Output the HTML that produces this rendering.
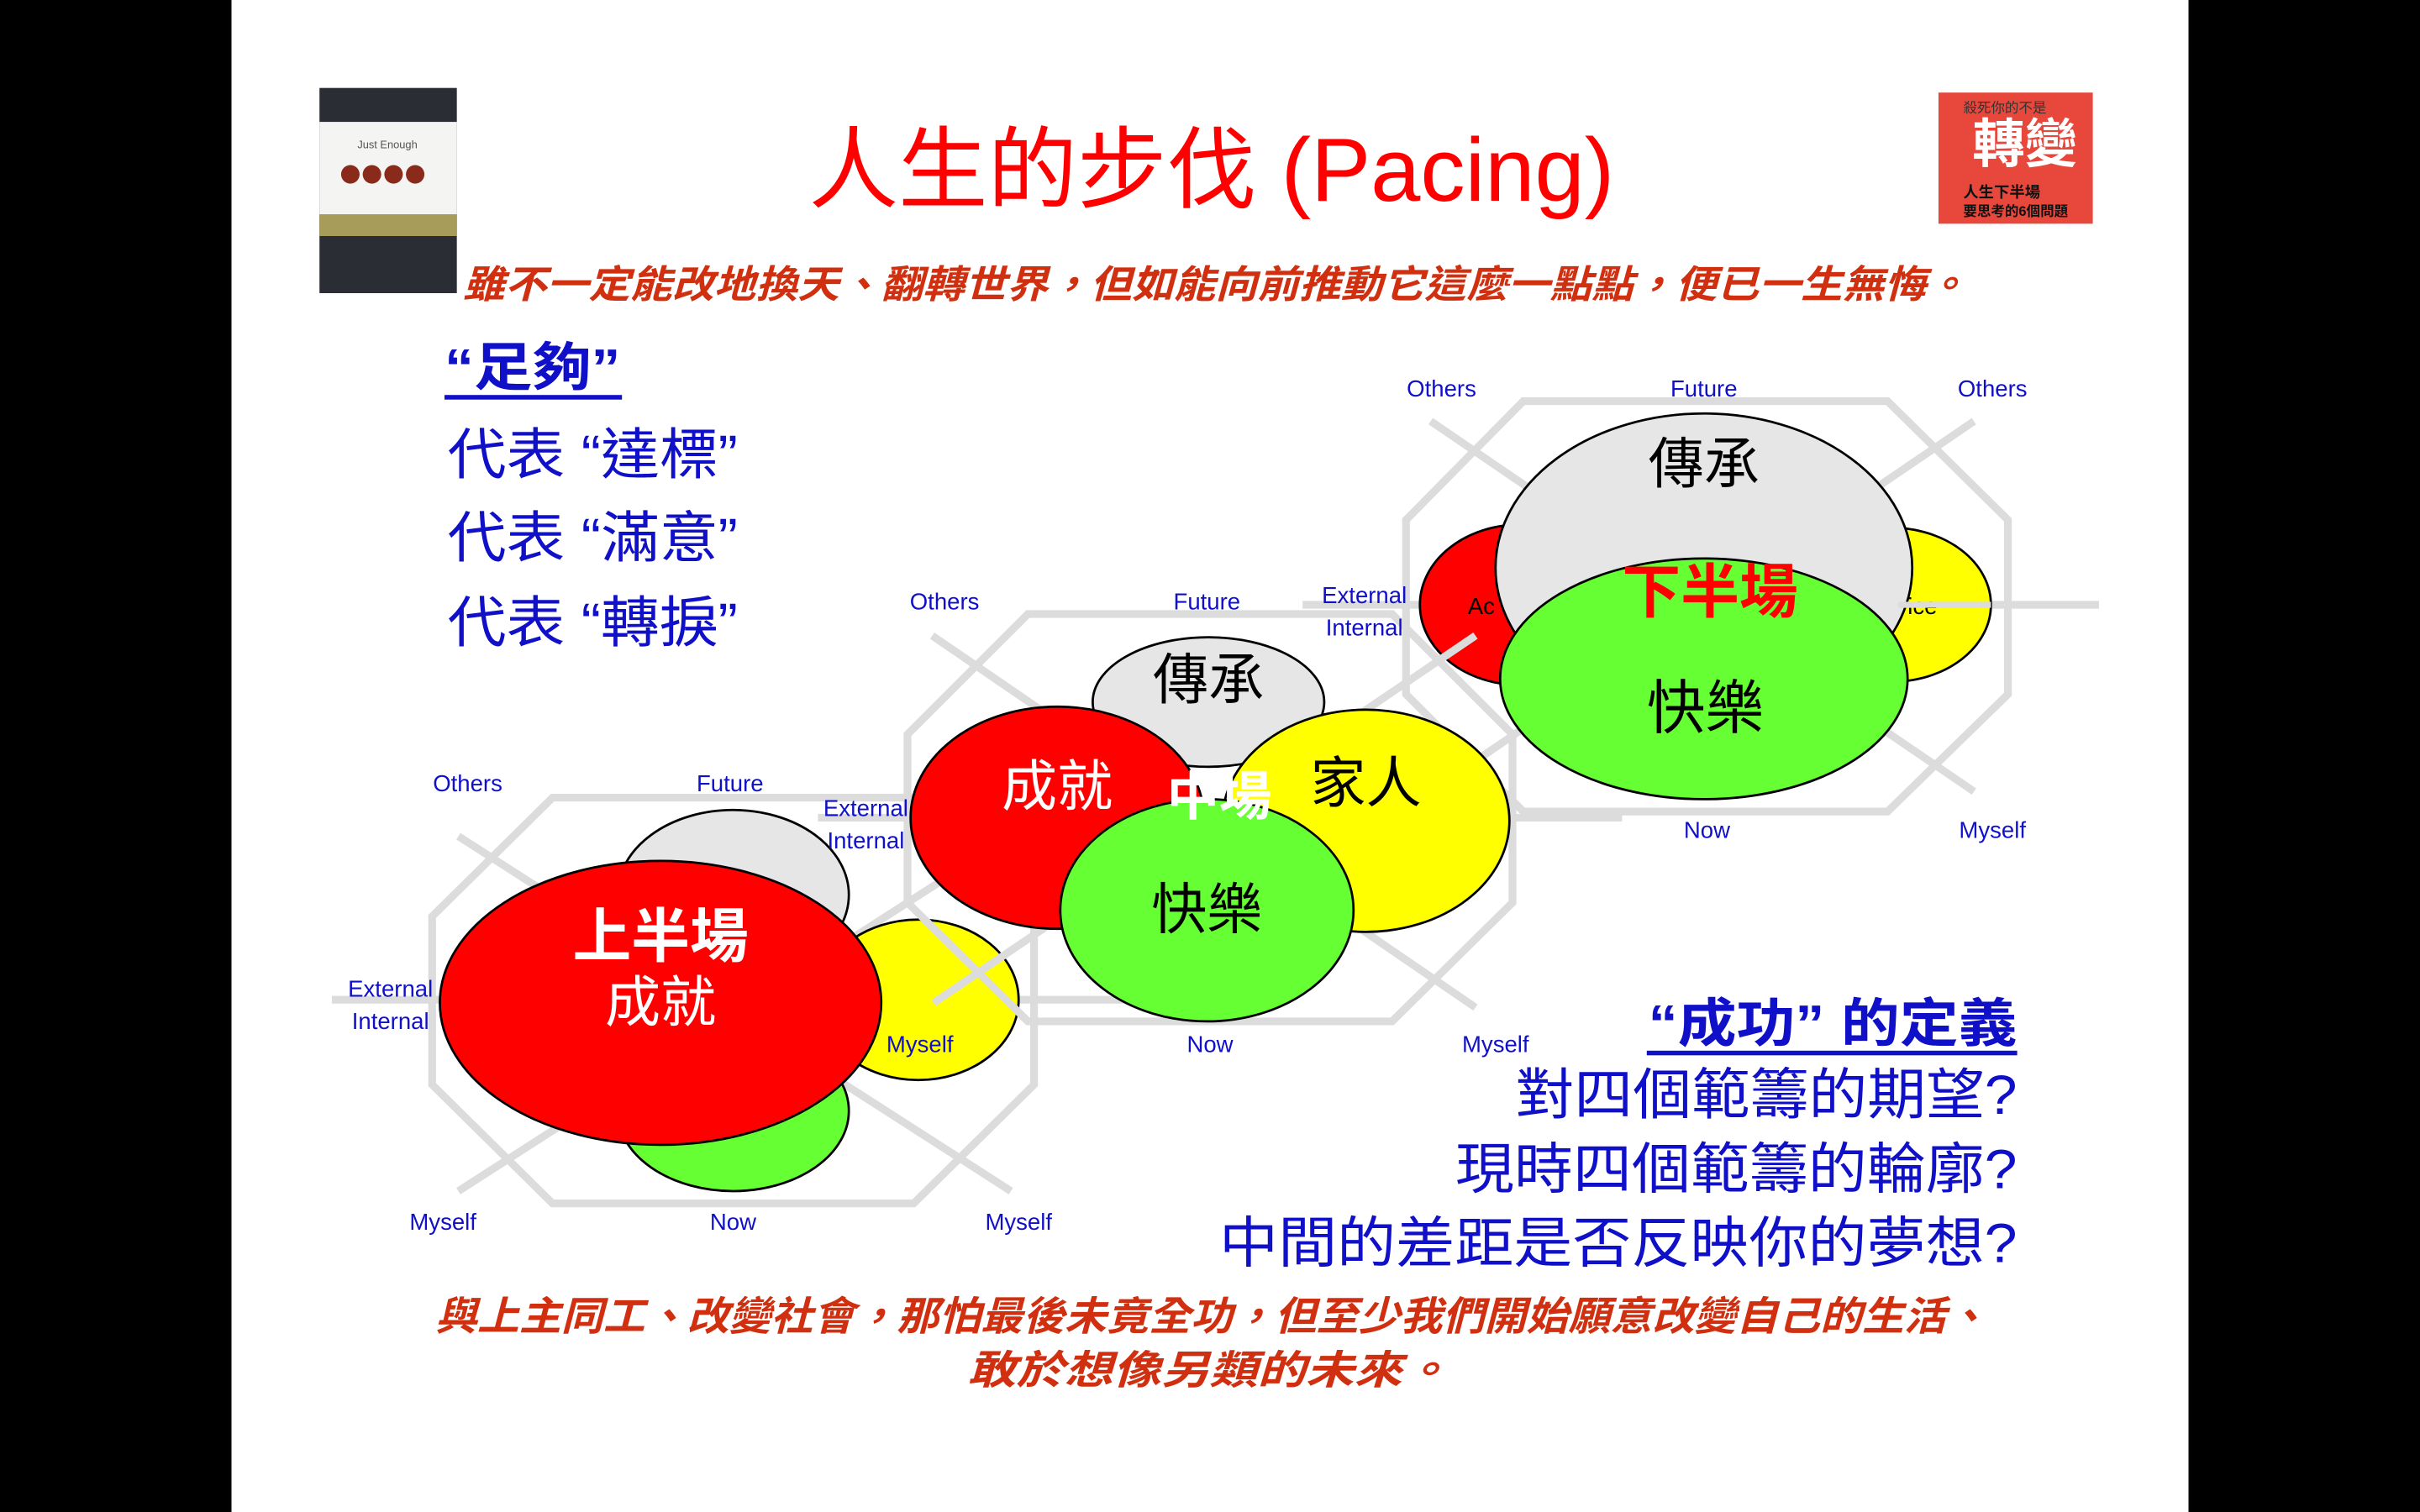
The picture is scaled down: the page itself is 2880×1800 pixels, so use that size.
<!DOCTYPE html>
<html><head><meta charset="utf-8"><style>
html,body{margin:0;padding:0;background:#000;}
svg{display:block}
text{font-family:"Liberation Sans","Noto Sans CJK TC",sans-serif;}
</style></head><body>
<svg width="2880" height="1800" viewBox="0 0 1568 980" xmlns="http://www.w3.org/2000/svg">
<rect x="0" y="0" width="1568" height="980" fill="#000"/>
<rect x="150" y="0" width="1268" height="980" fill="#fff"/>

<!-- left book -->
<rect x="207" y="57" width="89" height="133" fill="#2a2d33"/>
<rect x="207" y="79" width="89" height="60" fill="#f4f4f2"/>
<rect x="207" y="139" width="89" height="14" fill="#a89c5a"/>
<text x="251" y="96" font-size="7" fill="#555" text-anchor="middle" font-family="Liberation Serif,serif">Just Enough</text>
<circle cx="227" cy="113" r="6" fill="#8a2a1a"/><circle cx="241" cy="113" r="6" fill="#8a2a1a"/><circle cx="255" cy="113" r="6" fill="#8a2a1a"/><circle cx="269" cy="113" r="6" fill="#8a2a1a"/>
<!-- right book -->
<rect x="1256" y="60" width="100" height="85" fill="#e8483c"/>
<text x="1312" y="105" font-size="34" fill="#fff" text-anchor="middle" font-weight="bold">轉變</text>
<text x="1272" y="73" font-size="9" fill="#333">殺死你的不是</text>
<text x="1272" y="128" font-size="10" fill="#111" font-weight="bold">人生下半場</text>
<text x="1272" y="140" font-size="9" fill="#111" font-weight="bold">要思考的6個問題</text>

<!-- title -->
<text x="785" y="130" font-size="58" fill="#ff0000" text-anchor="middle">人生的步伐 (Pacing)</text>
<text x="300" y="193" font-size="25" fill="#d03010" font-style="italic" font-weight="bold" textLength="975" lengthAdjust="spacingAndGlyphs">雖不一定能改地換天、翻轉世界，但如能向前推動它這麼一點點，便已一生無悔。</text>

<!-- left text block -->
<text x="288" y="250" font-size="34" fill="#1010c8" font-weight="bold" textLength="114" lengthAdjust="spacingAndGlyphs">“足夠”</text>
<rect x="288" y="256" width="115" height="3" fill="#1010c8"/>
<text x="290" y="307" font-size="36" fill="#1010c8" textLength="188" lengthAdjust="spacingAndGlyphs">代表 “達標”</text>
<text x="290" y="361" font-size="36" fill="#1010c8" textLength="188" lengthAdjust="spacingAndGlyphs">代表 “滿意”</text>
<text x="290" y="416" font-size="36" fill="#1010c8" textLength="188" lengthAdjust="spacingAndGlyphs">代表 “轉捩”</text>

<!-- diagram 1 frame -->
<g fill="none" stroke="#dcdcdc" stroke-width="5">
<polygon points="358,517 592,517 670,594 670,703 592,780 358,780 280,703 280,594"/>
<line x1="297" y1="542" x2="655" y2="772"/>
<line x1="297" y1="772" x2="655" y2="542"/>
<line x1="215" y1="648" x2="735" y2="648"/>
</g>
<g stroke="#000" stroke-width="1.5">
<ellipse cx="475" cy="580" rx="75" ry="55" fill="#e6e6e6"/>
<ellipse cx="475" cy="720" rx="75" ry="52" fill="#66ff33"/>
<ellipse cx="595" cy="648" rx="65" ry="52" fill="#ffff00"/>
<ellipse cx="428" cy="650" rx="143" ry="92" fill="#ff0000"/>
</g>
<text x="428" y="620" font-size="38" fill="#fff" font-weight="bold" text-anchor="middle">上半場</text>
<text x="428" y="662" font-size="36" fill="#fff" text-anchor="middle">成就</text>

<!-- diagram 3 frame -->
<g fill="none" stroke="#dcdcdc" stroke-width="5">
<polygon points="987,260 1223,260 1301,337 1301,450 1223,526 987,526 911,450 911,337"/>
<line x1="927" y1="273" x2="1279" y2="513"/>
<line x1="927" y1="513" x2="1279" y2="273"/>
<line x1="844" y1="392" x2="1360" y2="392"/>
</g>
<g stroke="#000" stroke-width="1.5">
<ellipse cx="985" cy="392" rx="65" ry="52" fill="#ff0000"/>
<ellipse cx="1225" cy="392" rx="65" ry="50" fill="#ffff00"/>
</g>
<text x="951" y="398" font-size="15" fill="#000">Ac</text>
<text x="1236" y="398" font-size="15" fill="#000">ice</text>
<g stroke="#000" stroke-width="1.5">
<ellipse cx="1104" cy="368" rx="135" ry="100" fill="#e6e6e6"/>
<ellipse cx="1104" cy="440" rx="132" ry="78" fill="#66ff33"/>
</g>
<line x1="1230" y1="392" x2="1290" y2="392" stroke="#dcdcdc" stroke-width="4"/>
<text x="1104" y="313" font-size="36" fill="#000" text-anchor="middle">傳承</text>
<text x="1108" y="397" font-size="38" fill="#ff0000" font-weight="bold" text-anchor="middle">下半場</text>
<text x="1105" y="472" font-size="38" fill="#000" text-anchor="middle">快樂</text>

<!-- diagram 2 frame -->
<g fill="none" stroke="#dcdcdc" stroke-width="5">
<polygon points="666,398 902,398 980,476 980,585 902,662 666,662 588,585 588,476"/>
<line x1="604" y1="412" x2="956" y2="653"/>
<line x1="605" y1="650" x2="956" y2="412"/>
<line x1="530" y1="530" x2="1051" y2="530"/>
</g>
<g stroke="#000" stroke-width="1.5">
<ellipse cx="783" cy="455" rx="75" ry="42" fill="#e6e6e6"/>
<ellipse cx="685" cy="530" rx="95" ry="72" fill="#ff0000"/>
<ellipse cx="885" cy="532" rx="93" ry="72" fill="#ffff00"/>
<ellipse cx="782" cy="590" rx="95" ry="72" fill="#66ff33"/>
</g>
<text x="783" y="453" font-size="36" fill="#000" text-anchor="middle">傳承</text>
<text x="685" y="522" font-size="36" fill="#fff" text-anchor="middle">成就</text>
<text x="885" y="520" font-size="36" fill="#000" text-anchor="middle">家人</text>
<text x="790" y="528" font-size="34" fill="#fff" font-weight="bold" text-anchor="middle">中場</text>
<text x="782" y="602" font-size="36" fill="#000" text-anchor="middle">快樂</text>

<!-- labels -->
<g font-size="15" fill="#1010c8" text-anchor="middle">
<text x="303" y="513">Others</text><text x="473" y="513">Future</text>
<text x="253" y="646">External</text><text x="253" y="667">Internal</text>
<text x="287" y="797">Myself</text><text x="475" y="797">Now</text><text x="660" y="797">Myself</text>
<text x="596" y="682">Myself</text>
<text x="612" y="395">Others</text><text x="782" y="395">Future</text>
<text x="561" y="529">External</text><text x="561" y="550">Internal</text>
<text x="784" y="682">Now</text><text x="969" y="682">Myself</text>
<text x="934" y="257">Others</text><text x="1104" y="257">Future</text><text x="1291" y="257">Others</text>
<text x="884" y="391">External</text><text x="884" y="412">Internal</text>
<text x="1106" y="543">Now</text><text x="1291" y="543">Myself</text>
</g>

<!-- right text block -->
<text x="1068" y="675" font-size="34" fill="#1010c8" font-weight="bold" textLength="239" lengthAdjust="spacingAndGlyphs">“成功” 的定義</text>
<rect x="1067" y="681" width="240" height="3" fill="#1010c8"/>
<g font-size="36" fill="#1010c8">
<text x="982" y="722" textLength="325" lengthAdjust="spacingAndGlyphs">對四個範籌的期望?</text>
<text x="943" y="770" textLength="364" lengthAdjust="spacingAndGlyphs">現時四個範籌的輪廓?</text>
<text x="790" y="818" textLength="517" lengthAdjust="spacingAndGlyphs">中間的差距是否反映你的夢想?</text>
</g>

<!-- bottom -->
<g font-size="26" fill="#d03010" font-style="italic" font-weight="bold">
<text x="282" y="862" textLength="1006" lengthAdjust="spacingAndGlyphs">與上主同工、改變社會，那怕最後未竟全功，但至少我們開始願意改變自己的生活、</text>
<text x="627" y="897" textLength="313" lengthAdjust="spacingAndGlyphs">敢於想像另類的未來。</text>
</g>
</svg>
</body></html>
